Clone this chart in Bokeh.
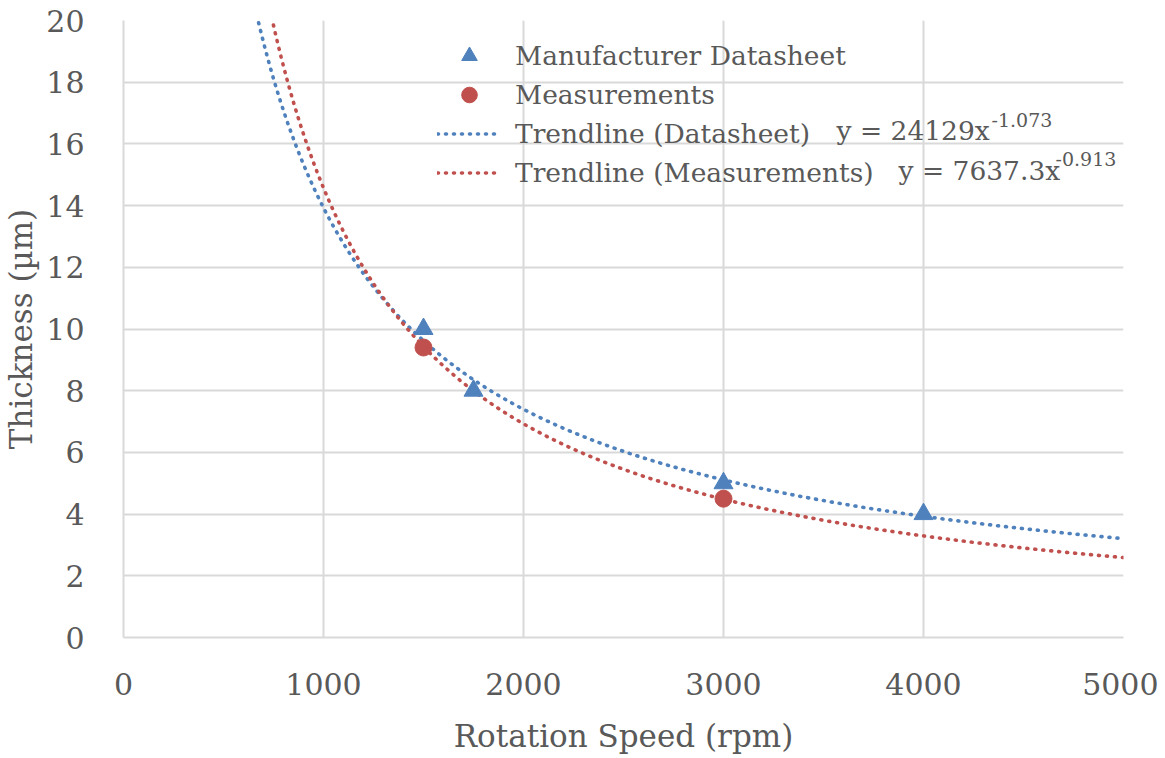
import numpy as np
from bokeh.plotting import figure
from bokeh.models import Legend, LegendItem, FixedTicker, Label, Range1d
from bokeh.embed import file_html
from bokeh.resources import INLINE

# ---- data ----
ds_speed = [1500, 1750, 3000, 4000]
ds_thick = [10, 8, 5, 4]
meas_speed = [1500, 3000]
meas_thick = [9.4, 4.5]

# trendline coefficients (power fits as displayed on the chart curves)
blue_coef, blue_exp = 7637.3, -0.913
red_coef, red_exp = 24129.0, -1.073

eq_ds_main, eq_ds_sup = "y = 24129x", "-1.073"
eq_ms_main, eq_ms_sup = "y = 7637.3x", "-0.913"

x_ticks = [0, 1000, 2000, 3000, 4000, 5000]
y_ticks = [0, 2, 4, 6, 8, 10, 12, 14, 16, 18, 20]

BLUE = "#4F81BD"
RED = "#C0504D"
TXT = "#595959"
GRID = "#D9D9D9"
FONT = "DejaVu Serif"

p = figure(frame_width=1000, frame_height=617, output_backend="svg", toolbar_location=None,
           x_range=Range1d(0, 5000), y_range=Range1d(0, 20),
           min_border_left=114, min_border_right=35, min_border_top=20, min_border_bottom=121)
p.outline_line_color = None
p.background_fill_color = "white"
p.border_fill_color = "white"

for ax in (p.xaxis[0], p.yaxis[0]):
    ax.major_tick_line_color = None
    ax.minor_tick_line_color = None
    ax.axis_line_color = GRID
    ax.axis_line_width = 2
    ax.major_label_text_font = FONT
    ax.major_label_text_font_size = "30px"
    ax.major_label_text_color = TXT
    ax.axis_label_text_font = FONT
    ax.axis_label_text_font_size = "31px"
    ax.axis_label_text_color = TXT
    ax.axis_label_text_font_style = "normal"

p.xaxis.ticker = FixedTicker(ticks=x_ticks)
p.yaxis.ticker = FixedTicker(ticks=y_ticks)
p.xaxis.axis_label = "Rotation Speed (rpm)"
p.yaxis.axis_label = "Thickness (µm)"
p.xaxis.major_label_standoff = 29
p.xaxis.axis_label_standoff = 20
p.yaxis.major_label_standoff = 33
p.yaxis.axis_label_standoff = 4

p.xgrid.ticker = FixedTicker(ticks=x_ticks)
p.ygrid.ticker = FixedTicker(ticks=y_ticks)
p.grid.grid_line_color = GRID
p.grid.grid_line_width = 2

xs = np.linspace(600, 5000, 400)
l_blue = p.line(xs, blue_coef * xs ** blue_exp, line_color=BLUE, line_width=3.6,
                line_dash="1 7", line_cap="round")
l_red = p.line(xs, red_coef * xs ** red_exp, line_color=RED, line_width=3.6,
               line_dash="1 7", line_cap="round")

s_ds = p.scatter(ds_speed, ds_thick, marker="triangle", size=19, color=BLUE)
s_ms = p.scatter(meas_speed, meas_thick, marker="circle", size=17, color=RED)

legend = Legend(items=[
    LegendItem(label="Manufacturer Datasheet", renderers=[s_ds]),
    LegendItem(label="Measurements", renderers=[s_ms]),
    LegendItem(label="Trendline (Datasheet)", renderers=[l_blue]),
    LegendItem(label="Trendline (Measurements)", renderers=[l_red]),
], location=(314, 445))
legend.label_text_font = FONT
legend.label_text_font_size = "26.5px"
legend.label_text_color = TXT
legend.label_height = 39
legend.glyph_height = 39
legend.glyph_width = 64
legend.label_standoff = 14
legend.spacing = 0
legend.padding = 0
legend.margin = 0
legend.border_line_color = None
legend.background_fill_alpha = 0
p.add_layout(legend)

def eq(main, sup, x_main, x_sup, y):
    p.add_layout(Label(x=x_main, y=y, text=main, text_font=FONT, text_font_size="26.5px",
                       text_color=TXT, text_baseline="middle", text_align="left"))
    p.add_layout(Label(x=x_sup, y=y, y_offset=11, text=sup, text_font=FONT,
                       text_font_size="19px", text_color=TXT, text_baseline="middle",
                       text_align="left"))

eq(eq_ds_main, eq_ds_sup, 3565, 4340, 16.43)
eq(eq_ms_main, eq_ms_sup, 3875, 4660, 15.14)

open("out.html", "w").write(file_html(p, INLINE))
